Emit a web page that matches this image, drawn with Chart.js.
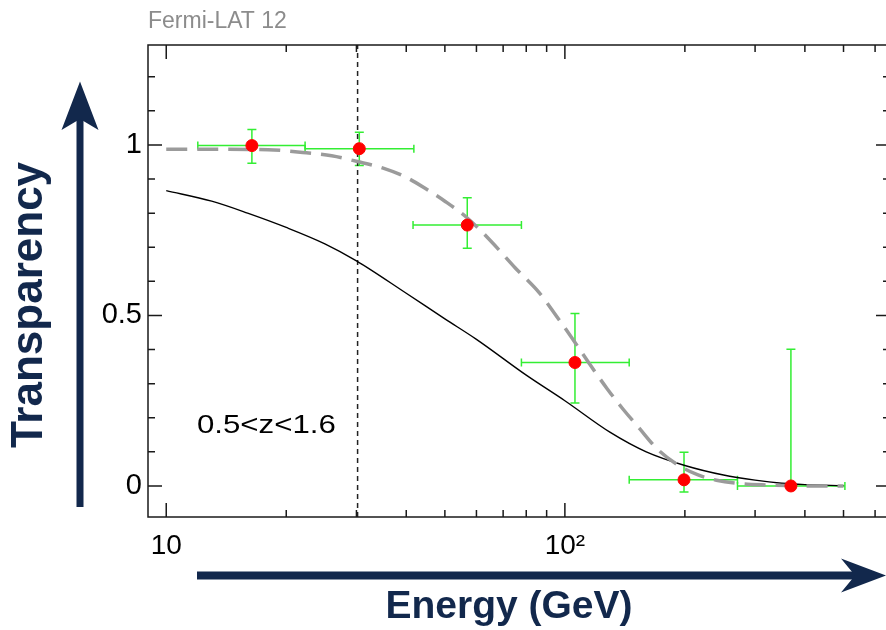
<!DOCTYPE html>
<html>
<head>
<meta charset="utf-8">
<script src="https://cdn.jsdelivr.net/npm/chart.js@4.4.1/dist/chart.umd.min.js"></script>
<style>
  html, body { margin: 0; padding: 0; background: #fff; overflow: hidden; }
  #wrap { position: relative; width: 900px; height: 630px; }
</style>
</head>
<body>
<div id="wrap"><canvas id="chart" width="900" height="630"></canvas></div>
<script>
// measured points (energy in GeV, transparency)
const pointE = [16.4, 30.5, 56.9, 106, 199, 369];
const pointT = [0.998, 0.989, 0.765, 0.362, 0.018, 0.0];
const errELow = [12.0, 22.3, 41.6, 77.8, 145, 271];
const errEHigh = [22.3, 41.8, 77.8, 145, 271, 504];
const errTLow = [0.946, 0.94, 0.697, 0.243, -0.018, 0.0];
const errTHigh = [1.045, 1.037, 0.845, 0.506, 0.099, 0.401];

// model curves
const grayE = [10, 14, 18, 22, 26, 30, 35, 40, 45, 50, 57, 65, 75, 86.5, 95, 105, 115, 127.5, 140, 154, 170, 190, 215, 240, 270, 320, 400, 500];
const grayT = [0.987, 0.987, 0.986, 0.978, 0.968, 0.952, 0.932, 0.905, 0.87, 0.835, 0.785, 0.72, 0.64, 0.565, 0.50, 0.428, 0.36, 0.286, 0.225, 0.168, 0.11, 0.065, 0.033, 0.017, 0.008, 0.003, 0.0, 0.0];
const blackE = [10, 13, 16, 20, 25, 30, 40, 50, 60, 80, 100, 130, 160, 200, 250, 300, 350, 400, 500];
const blackT = [0.866, 0.835, 0.80, 0.758, 0.71, 0.66, 0.565, 0.49, 0.43, 0.325, 0.25, 0.157, 0.10, 0.06, 0.032, 0.017, 0.008, 0.004, 0.001];
const cutE = 30.2;

// axes
const xMin = 9.0, xMax = 654;
const yMin = -0.091, yMax = 1.293;
const xTicks = [10, 20, 30, 40, 50, 60, 70, 80, 90, 100, 200, 300, 400, 500, 600];
const xMajor = [10, 100];
const xMajorLabels = ['10', '10²'];
const yTicks = [0, 0.1, 0.2, 0.3, 0.4, 0.5, 0.6, 0.7, 0.8, 0.9, 1.0, 1.1, 1.2];
const yMajor = [0, 0.5, 1];
const yMajorLabels = ['0', '0.5', '1'];

const FONT = '"Liberation Sans", Arial, Helvetica, sans-serif';
const NAVY = '#12284c';

const isMajor = (list, v) => list.findIndex(m => Math.abs(m - v) < 1e-6);

const frame = {
  id: 'frame',
  beforeDatasetsDraw(chart) {
    // error bars
    const { ctx, scales: { x, y } } = chart;
    ctx.save();
    ctx.strokeStyle = '#33ee33';
    ctx.lineWidth = 1.5;
    for (let i = 0; i < pointE.length; i++) {
      const px = x.getPixelForValue(pointE[i]), py = y.getPixelForValue(pointT[i]);
      const x0 = x.getPixelForValue(errELow[i]), x1 = x.getPixelForValue(errEHigh[i]);
      const y0 = y.getPixelForValue(errTLow[i]), y1 = y.getPixelForValue(errTHigh[i]);
      ctx.beginPath();
      ctx.moveTo(x0, py); ctx.lineTo(x1, py);
      ctx.moveTo(x0, py - 4); ctx.lineTo(x0, py + 4);
      ctx.moveTo(x1, py - 4); ctx.lineTo(x1, py + 4);
      ctx.moveTo(px, y0); ctx.lineTo(px, y1);
      ctx.moveTo(px - 4.5, y1); ctx.lineTo(px + 4.5, y1);
      if (errTLow[i] < pointT[i]) { ctx.moveTo(px - 4.5, y0); ctx.lineTo(px + 4.5, y0); }
      ctx.stroke();
    }
    ctx.restore();
  },
  afterDraw(chart) {
    const { ctx, chartArea: a, scales: { x, y } } = chart;
    ctx.save();
    // box
    ctx.strokeStyle = '#1a1a1a';
    ctx.lineWidth = 1.5;
    ctx.strokeRect(a.left, a.top, a.right - a.left, a.bottom - a.top);
    // inward tick marks
    ctx.beginPath();
    xTicks.forEach(v => {
      const px = x.getPixelForValue(v);
      const len = isMajor(xMajor, v) >= 0 ? 14 : 7;
      ctx.moveTo(px, a.bottom); ctx.lineTo(px, a.bottom - len);
      ctx.moveTo(px, a.top); ctx.lineTo(px, a.top + len);
    });
    yTicks.forEach(v => {
      const py = y.getPixelForValue(v);
      const len = isMajor(yMajor, v) >= 0 ? 14 : 7;
      ctx.moveTo(a.left, py); ctx.lineTo(a.left + len, py);
      ctx.moveTo(a.right, py); ctx.lineTo(a.right - len, py);
    });
    ctx.stroke();

    // texts
    ctx.fillStyle = '#8c8c8c';
    ctx.font = '23px ' + FONT;
    ctx.textAlign = 'left';
    ctx.textBaseline = 'alphabetic';
    ctx.fillText('Fermi-LAT 12', 148, 28);

    ctx.fillStyle = '#000';
    ctx.save();
    ctx.translate(197, 433);
    ctx.scale(1.2, 1);
    ctx.font = '26px ' + FONT;
    ctx.fillText('0.5<z<1.6', 0, 0);
    ctx.restore();

    // arrows
    ctx.fillStyle = NAVY;
    ctx.fillRect(197, 571.5, 660, 8);
    ctx.beginPath();
    ctx.moveTo(886, 575.5); ctx.lineTo(841, 558.5); ctx.lineTo(855, 575.5); ctx.lineTo(841, 592.5);
    ctx.closePath(); ctx.fill();

    ctx.fillRect(76.5, 118, 7, 389);
    ctx.beginPath();
    ctx.moveTo(80, 81.5); ctx.lineTo(98.5, 130); ctx.lineTo(80, 119); ctx.lineTo(61.5, 130);
    ctx.closePath(); ctx.fill();

    ctx.font = 'bold 39px ' + FONT;
    ctx.textAlign = 'center';
    ctx.fillText('Energy (GeV)', 509, 618);

    ctx.save();
    ctx.translate(42, 305);
    ctx.rotate(-Math.PI / 2);
    ctx.font = 'bold 44px ' + FONT;
    ctx.fillText('Transparency', 0, 0);
    ctx.restore();

    ctx.restore();
  }
};

new Chart(document.getElementById('chart'), {
  type: 'scatter',
  data: {
    datasets: [
      {
        data: pointE.map((e, i) => ({ x: e, y: pointT[i] })),
        backgroundColor: '#ff0000', borderColor: '#ff0000',
        pointRadius: 6, showLine: false
      },
      {
        data: grayE.map((e, i) => ({ x: e, y: grayT[i] })),
        borderColor: '#9b9b9b', borderWidth: 3.5, borderDash: [21, 10],
        pointRadius: 0, showLine: true, cubicInterpolationMode: 'monotone'
      },
      {
        data: blackE.map((e, i) => ({ x: e, y: blackT[i] })),
        borderColor: '#000', borderWidth: 1.4,
        pointRadius: 0, showLine: true, cubicInterpolationMode: 'monotone'
      },
      {
        data: [{ x: cutE, y: yMin }, { x: cutE, y: yMax }],
        borderColor: '#222', borderWidth: 1.5, borderDash: [5, 4],
        pointRadius: 0, showLine: true
      }
    ]
  },
  options: {
    responsive: false,
    animation: false,
    devicePixelRatio: 1,
    layout: { padding: { top: 45, right: 10, left: 0, bottom: 0 } },
    plugins: { legend: { display: false }, tooltip: { enabled: false } },
    scales: {
      x: {
        type: 'logarithmic', min: xMin, max: xMax,
        grid: { display: false, drawTicks: false },
        border: { display: false },
        afterBuildTicks: s => { s.ticks = xTicks.map(v => ({ value: v })); },
        afterFit: s => { s.height = 113; },
        ticks: {
          autoSkip: false, maxRotation: 0, minRotation: 0, padding: 12, color: '#000',
          font: { family: FONT, size: 28 },
          callback: v => { const k = isMajor(xMajor, v); return k >= 0 ? xMajorLabels[k] : ''; }
        }
      },
      y: {
        min: yMin, max: yMax,
        grid: { display: false, drawTicks: false },
        border: { display: false },
        afterBuildTicks: s => { s.ticks = yTicks.map(v => ({ value: v })); },
        afterFit: s => { s.width = 148; },
        ticks: {
          autoSkip: false, padding: 6, color: '#000',
          font: { family: FONT, size: 29 },
          callback: v => { const k = isMajor(yMajor, v); return k >= 0 ? yMajorLabels[k] : ''; }
        }
      }
    }
  },
  plugins: [frame]
});
</script>
</body>
</html>
